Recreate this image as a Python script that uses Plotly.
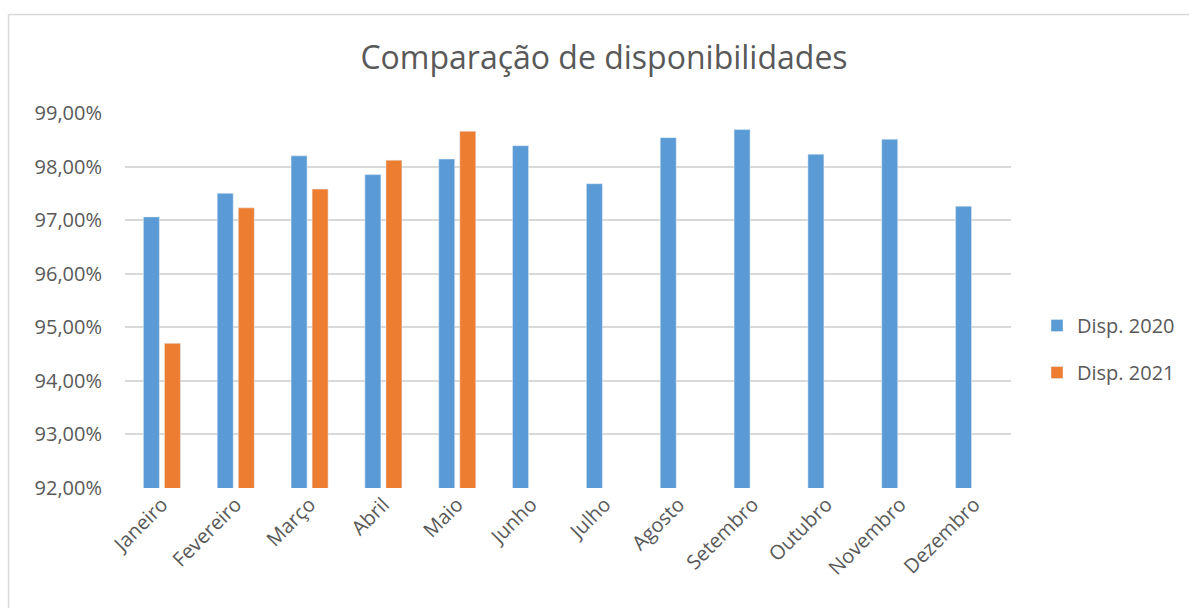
import plotly.graph_objects as go

# Monthly availability, in percent
meses = ["Janeiro", "Fevereiro", "Março", "Abril", "Maio", "Junho",
         "Julho", "Agosto", "Setembro", "Outubro", "Novembro", "Dezembro"]
disp_2020 = [97.06, 97.50, 98.20, 97.85, 98.14, 98.39,
             97.68, 98.54, 98.69, 98.23, 98.51, 97.26]
disp_2021 = [94.70, 97.23, 97.58, 98.12, 98.66, None,
             None, None, None, None, None, None]

y_ticks = [92, 93, 94, 95, 96, 97, 98, 99]
y_tick_labels = ["92,00%", "93,00%", "94,00%", "95,00%",
                 "96,00%", "97,00%", "98,00%", "99,00%"]

W, H = 1189, 608
L, R, T, B = 125, 178, 113, 120
FONT = "Open Sans"
TXT = "#595959"

fig = go.Figure()
fig.add_trace(go.Bar(x=meses, y=disp_2020, name="Disp. 2020",
                     marker_color="#5B9BD5", legendgroup="a",
                     base=0))
fig.add_trace(go.Bar(x=meses, y=disp_2021, name="Disp. 2021",
                     marker_color="#ED7D31", legendgroup="b",
                     base=0))

# chart-area frame (left and top edges visible)
pw, ph = W - L - R, H - T - B
def px_x(px):
    return (px - L) / pw
def px_y(py):
    return (H - B - py) / ph

fig.add_shape(type="line", xref="paper", yref="paper",
              x0=px_x(8.5), x1=px_x(1200), y0=px_y(14.5), y1=px_y(14.5),
              line=dict(color="#D9D9D9", width=1.5))
fig.add_shape(type="line", xref="paper", yref="paper",
              x0=px_x(8.5), x1=px_x(8.5), y0=px_y(14.5), y1=px_y(640),
              line=dict(color="#D9D9D9", width=1.5))

fig.update_layout(
    width=W, height=H,
    margin=dict(l=L, r=R, t=T, b=B),
    paper_bgcolor="white", plot_bgcolor="white",
    barmode="group", bargap=0.43, bargroupgap=0.24,
    font=dict(family=FONT, color=TXT, size=19),
    title=dict(text="Comparação de disponibilidades",
               font=dict(family=FONT, size=32, color=TXT),
               x=604 / W, xanchor="center", xref="container",
               y=1 - 58 / H, yanchor="middle", yref="container"),
    legend=dict(xref="container", yref="container",
                x=1037 / W, xanchor="left",
                y=1 - 349 / H, yanchor="middle",
                font=dict(family=FONT, size=20, color=TXT),
                tracegroupgap=18, itemwidth=30,
                bgcolor="rgba(0,0,0,0)"),
    showlegend=True,
)

fig.update_xaxes(showgrid=False, showline=False, ticks="",
                 tickangle=-45, tickfont=dict(size=20, color=TXT),
                 fixedrange=True)
fig.update_yaxes(range=[92, 99], tickvals=y_ticks, ticktext=y_tick_labels,
                 showgrid=True, gridcolor="#D9D9D9", gridwidth=1.5,
                 zeroline=False, showline=False, ticks="",
                 ticklabelstandoff=22,
                 tickfont=dict(size=20, color=TXT), fixedrange=True)

fig.write_html("out.html")
